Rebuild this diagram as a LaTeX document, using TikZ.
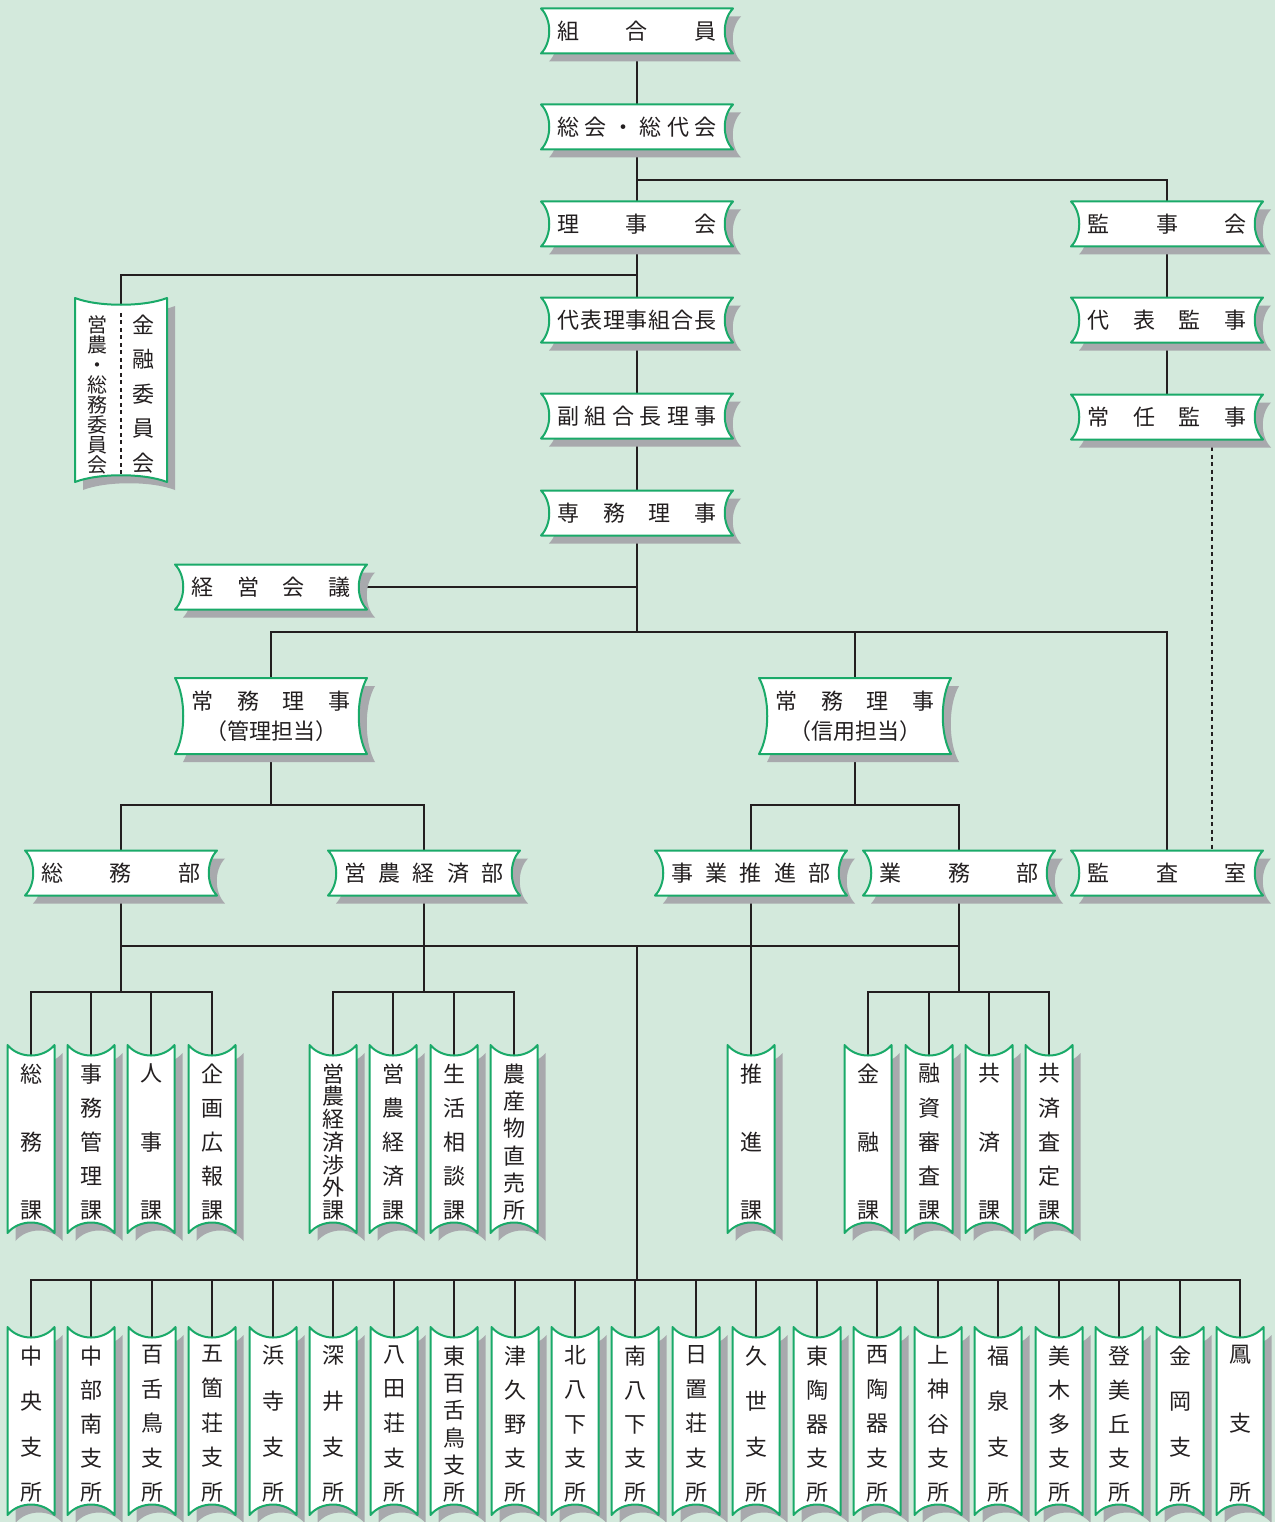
\documentclass[tikz,border=0pt]{standalone}
\usepackage{fontspec}
\newfontfamily\jp{Noto Sans CJK JP}
\usepackage{tikz}
\usetikzlibrary{backgrounds, calc}
\definecolor{fondoverde}{HTML}{D3E9DC}
\definecolor{verde}{HTML}{1AAA69}
\definecolor{gris}{HTML}{A8A9AD}
\definecolor{tinta}{HTML}{231F20}
\tikzset{
  fondo/.style={fill=fondoverde},
  sombra/.style={fill=gris},
  borde/.style={draw=verde, fill=white, line width=2pt, line join=round},
  etiq/.style={inner sep=0pt, text=tinta, font=\jp\fontsize{22}{30}\selectfont, align=center},
  linea/.style={draw=tinta, line width=1.6pt},
  punteada/.style={draw=tinta, line width=1.2pt, dash pattern=on 4pt off 3.5pt},
}
% texto repartido: horizontal y vertical
\def\yokochars#1{#1\yokosig}
\def\yokosig#1{\ifx\relax#1\else\hfill#1\expandafter\yokosig\fi}
\newcommand{\yoko}[1]{\makebox[159pt]{\yokochars#1\relax}}
\def\tatechars#1{#1\tatesig}
\def\tatesig#1{\ifx\relax#1\par\else\par\vfill#1\expandafter\tatesig\fi}
\newcommand{\tate}[2][155pt]{\parbox[c][#1][s]{26pt}{\fontsize{22}{22}\selectfont\centering\expandafter\tatechars#2\relax}}
% contornos (medio ancho, medio alto, curvatura)
\newcommand{\formah}[3]{(-#1,-#2) -- (#1,-#2) .. controls ({#1-#3},{-#2/2}) and ({#1-#3},{#2/2}) .. (#1,#2) -- (-#1,#2) .. controls ({-#1+#3},{#2/2}) and ({-#1+#3},{-#2/2}) .. cycle}
\newcommand{\formav}[3]{(-#1,-#2) .. controls ({-#1/2},{-#2+#3}) and ({#1/2},{-#2+#3}) .. (#1,-#2) -- (#1,#2) .. controls ({#1/2},{#2-#3}) and ({-#1/2},{#2-#3}) .. (-#1,#2) -- cycle}
% cajas: nombre, x, y, (alto), texto
\newcommand{\cajah}[5]{%
  \fill[sombra, shift={({#2+8},{#3+8})}] \formah{96}{#4/2}{11};
  \path[borde, shift={({#2},{#3})}] \formah{96}{#4/2}{11};
  \node[etiq, minimum width=192pt, minimum height=#4pt] (#1) at ({#2},{#3}) {#5};
}
\newcommand{\cajav}[4]{%
  \fill[sombra, shift={({#2+8},{#3+8})}] \formav{23.5}{94}{14};
  \path[borde, shift={({#2},{#3})}] \formav{23.5}{94}{14};
  \node[etiq, minimum width=47pt, minimum height=188pt] (#1) at ({#2},{#3+3}) {\tate{#4}};
}

\begin{document}
\begin{tikzpicture}[x=1pt, y=-1pt]
  \useasboundingbox (0,0) rectangle (1275,1522);

  \cajah{kumiai}{637}{31}{45}{\yoko{組合員}}
  \cajah{sokai}{637}{127}{45}{\yoko{総会・総代会}}
  \cajah{rijikai}{637}{224}{45}{\yoko{理事会}}
  \cajah{kumiaicho}{637}{320}{45}{\yoko{代表理事組合長}}
  \cajah{fukukumiaicho}{637}{416}{45}{\yoko{副組合長理事}}
  \cajah{senmu}{637}{513}{45}{\yoko{専務理事}}
  \cajah{keiei}{271}{587}{45}{\yoko{経営会議}}
  \cajah{jomukanri}{271}{716}{76}{\yoko{常務理事}\\（管理担当）}
  \cajah{jomushinyo}{855}{716}{76}{\yoko{常務理事}\\（信用担当）}
  \cajah{kanjikai}{1167}{224}{45}{\yoko{監事会}}
  \cajah{daihyokanji}{1167}{320}{45}{\yoko{代表監事}}
  \cajah{joninkanji}{1167}{417}{45}{\yoko{常任監事}}
  \cajah{kansa}{1167}{873}{45}{\yoko{監査室}}
  \cajah{somubu}{121}{873}{45}{\yoko{総務部}}
  \cajah{einobu}{424}{873}{45}{\yoko{営農経済部}}
  \cajah{suishinbu}{751}{873}{45}{\yoko{事業推進部}}
  \cajah{gyomubu}{959}{873}{45}{\yoko{業務部}}

  % comites
  \fill[sombra, shift={(129,398)}] \formav{46}{92}{9};
  \path[borde, shift={(121,390)}] \formav{46}{92}{9};
  \node[etiq, minimum width=92pt, minimum height=184pt] (iinkai) at (121,394)
    {\parbox[c][156pt][s]{24pt}{\fontsize{20}{20}\selectfont\centering\tatechars 営農・総務委員会\relax}\hspace{21pt}\tate[157pt]{金融委員会}};
  \draw[punteada] ([yshift=-11pt]iinkai.north) -- ([yshift=11pt]iinkai.south);

  % secciones
  \foreach \x/\t [count=\i] in {31/総務課, 91/事務管理課, 151/人事課, 212/企画広報課}
    \cajav{somu\i}{\x}{1139}{\t};
  \foreach \x/\t [count=\i] in {333/営農経済渉外課, 393/営農経済課, 454/生活相談課, 514/農産物直売所}
    \cajav{eino\i}{\x}{1139}{\t};
  \cajav{suishinka}{751}{1139}{推進課}
  \foreach \x/\t [count=\i] in {868/金融課, 929/融資審査課, 989/共済課, 1049/共済査定課}
    \cajav{gyomu\i}{\x}{1139}{\t};

  % 支所
  \foreach \t [count=\i] in {中央支所, 中部南支所, 百舌鳥支所, 五箇荘支所, 浜寺支所, 深井支所,
      八田荘支所, 東百舌鳥支所, 津久野支所, 北八下支所, 南八下支所, 日置荘支所, 久世支所,
      東陶器支所, 西陶器支所, 上神谷支所, 福泉支所, 美木多支所, 登美丘支所, 金岡支所, 鳳支所}
    \cajav{shisho\i}{round(31+60.45*(\i-1))}{1421}{\t};

  \begin{scope}[on background layer]
    \fill[fondo] (0,0) rectangle (1275,1522);
    \coordinate (rkanji) at (637,180);
    \coordinate (riinkai) at (637,275);
    \coordinate (rjomu) at (637,632);
    \coordinate (rkanri) at (271,805);
    \coordinate (rshinyo) at (855,805);
    \coordinate (rbu) at (637,946);
    \coordinate (rsomu) at (121,992);
    \coordinate (reino) at (424,992);
    \coordinate (rgyomu) at (959,992);
    \coordinate (rshisho) at (637,1280);

    \draw[linea] (kumiai) -- (sokai) -- (rijikai) -- (kumiaicho) -- (fukukumiaicho) -- (senmu) -- (rjomu);
    \draw[linea] (rkanji) -| (kanjikai);
    \draw[linea] (kanjikai) -- (daihyokanji) -- (joninkanji);
    \draw[linea] (riinkai) -| (iinkai.center);
    \draw[linea] (keiei) -- (keiei -| senmu);
    \draw[linea] (jomukanri) |- (rjomu) -| (kansa);
    \draw[linea] (jomushinyo) -- (jomushinyo |- rjomu);
    \draw[linea] (jomukanri) -- (rkanri);
    \draw[linea] (somubu) |- (rkanri) -| (einobu);
    \draw[linea] (jomushinyo) -- (rshinyo);
    \draw[linea] (suishinbu) |- (rshinyo) -| (gyomubu);
    \draw[linea] (somubu) -- (rsomu);
    \draw[linea] (einobu) -- (reino);
    \draw[linea] (gyomubu) -- (rgyomu);
    \draw[linea] (somubu |- rbu) -- (gyomubu |- rbu);
    \draw[linea] (rbu) -- (rshisho);
    \draw[linea] (suishinbu) -- (suishinka.center);
    \foreach \i in {1,...,4} {
      \draw[linea] (rsomu) -| (somu\i.center);
      \draw[linea] (reino) -| (eino\i.center);
      \draw[linea] (rgyomu) -| (gyomu\i.center);
    }
    \foreach \i in {1,...,21}
      \draw[linea] (rshisho) -| (shisho\i.center);
    \draw[punteada] ([xshift=45pt]joninkanji.center) -- ([xshift=45pt]kansa.center);
  \end{scope}
\end{tikzpicture}
\end{document}
